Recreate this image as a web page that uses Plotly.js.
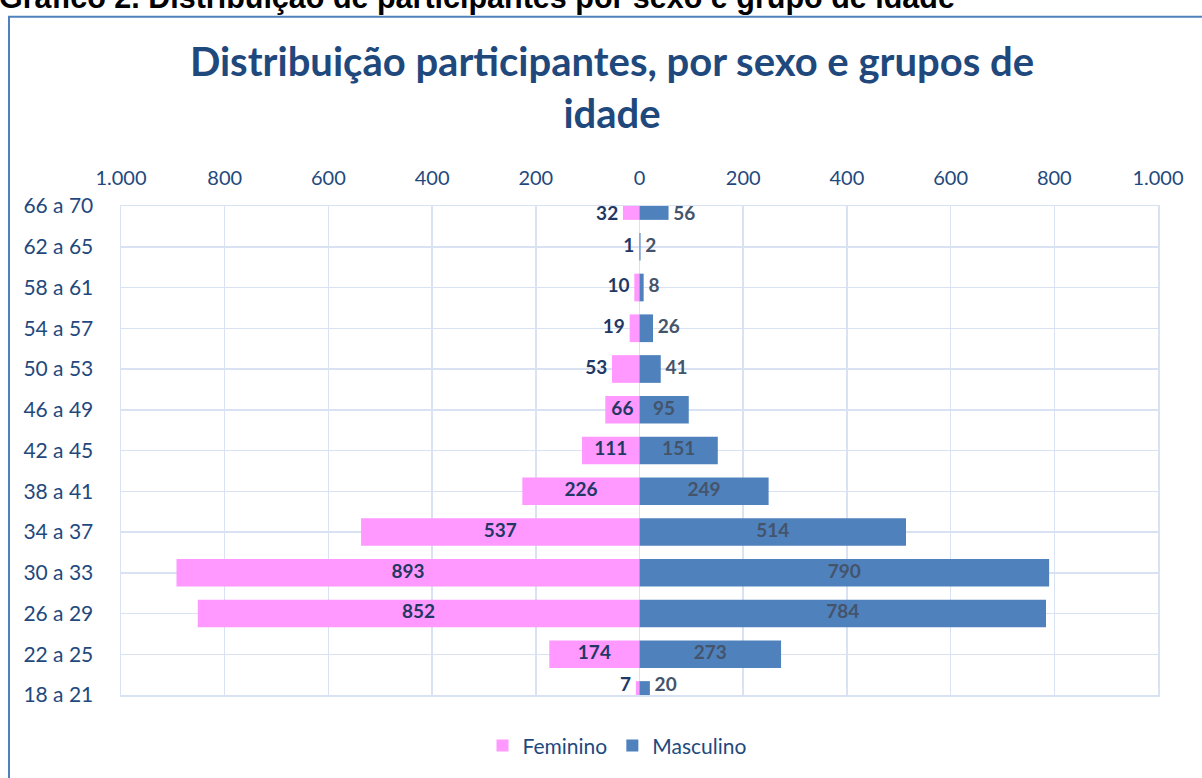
<!DOCTYPE html>
<html>
<head>
<meta charset="utf-8">
<script src="https://cdn.plot.ly/plotly-3.0.1.min.js"></script>
<style>html,body{margin:0;padding:0;background:#fff;}#chart{width:1202px;height:778px;}</style>
</head>
<body>
<div id="chart"></div>
<script>
// Age groups, bottom to top
const ageGroups = ["18 a 21","22 a 25","26 a 29","30 a 33","34 a 37","38 a 41","42 a 45","46 a 49","50 a 53","54 a 57","58 a 61","62 a 65","66 a 70"];
const feminino  = [7, 174, 852, 893, 537, 226, 111, 66, 53, 19, 10, 1, 32];
const masculino = [20, 273, 784, 790, 514, 249, 151, 95, 41, 26, 8, 2, 56];
const xTickVals = [-1000, -800, -600, -400, -200, 0, 200, 400, 600, 800, 1000];
const xTickText = ["1.000", "800", "600", "400", "200", "0", "200", "400", "600", "800", "1.000"];

const FONT = "Lato, 'Open Sans', sans-serif";
const W = 1202, H = 778;
const M = {l: 121, r: 44, t: 206, b: 81};
const PW = W - M.l - M.r, PH = H - M.t - M.b;
const px2x = p => (p - M.l) / PW;
const px2y = p => 1 - (p - M.t) / PH;

const BAR_W = 0.68;
const n = ageGroups.length;
const idx = ageGroups.map((_, i) => i);
// labels of the half-visible end bars sit on the visible part
const labelY = idx.map(i => Math.min(Math.max(i, BAR_W / 3), n - 1 - BAR_W / 3));
const isInside = v => v >= 60;

const traces = [
  {
    type: "bar", orientation: "h", name: "Feminino",
    y: idx, x: feminino.map(v => -v), width: BAR_W,
    marker: {color: "#FF99FF"}, hoverinfo: "skip"
  },
  {
    type: "bar", orientation: "h", name: "Masculino",
    y: idx, x: masculino, width: BAR_W,
    marker: {color: "#4F81BD"}, hoverinfo: "skip"
  },
  {
    type: "scatter", mode: "text", showlegend: false, cliponaxis: false, hoverinfo: "skip",
    y: labelY,
    x: feminino.map(v => isInside(v) ? -v / 2 : -v),
    text: feminino.map(v => isInside(v) ? String(v) : v + "\u2009\u2009"),
    textposition: feminino.map(v => isInside(v) ? "middle center" : "middle left"),
    textfont: {family: FONT, size: 19, color: "#1F3864", weight: "bold"}
  },
  {
    type: "scatter", mode: "text", showlegend: false, cliponaxis: false, hoverinfo: "skip",
    y: labelY,
    x: masculino.map(v => isInside(v) ? v / 2 : v),
    text: masculino.map(v => isInside(v) ? String(v) : "\u2009\u2009" + v),
    textposition: masculino.map(v => isInside(v) ? "middle center" : "middle right"),
    textfont: {family: FONT, size: 19, color: "#44546A", weight: "bold"}
  }
];

const grid = "#D9E2F3";
const layout = {
  width: W, height: H,
  margin: M,
  paper_bgcolor: "#fff", plot_bgcolor: "#fff",
  barmode: "overlay",
  font: {family: FONT, color: "#1F497D"},
  title: {
    text: "<b>Distribuição participantes, por sexo e grupos de<br>idade</b>",
    font: {family: FONT, size: 40, color: "#1F497D"},
    xref: "container", x: 612 / W, xanchor: "center",
    yref: "container", y: 1 - 76 / H, yanchor: "middle"
  },
  xaxis: {
    side: "top", range: [-1000, 1000], tickvals: xTickVals, ticktext: xTickText,
    showgrid: true, gridcolor: grid, gridwidth: 1.5,
    zeroline: true, zerolinecolor: grid, zerolinewidth: 1.5,
    showline: true, mirror: true, linecolor: grid, linewidth: 1.5,
    ticks: "", ticklabelstandoff: 12,
    tickfont: {family: FONT, size: 20, color: "#1F497D"}, fixedrange: true
  },
  yaxis: {
    range: [0, n - 1], tickvals: idx, ticktext: ageGroups,
    showgrid: true, gridcolor: grid, gridwidth: 1.5, zeroline: false,
    showline: true, mirror: true, linecolor: grid, linewidth: 1.5,
    ticks: "", ticklabelstandoff: 22,
    tickfont: {family: FONT, size: 21, color: "#1F497D"}, fixedrange: true
  },
  legend: {
    orientation: "h", x: px2x(617), xanchor: "center", y: px2y(748), yanchor: "middle",
    font: {family: FONT, size: 21, color: "#1F497D"}, traceorder: "normal",
    itemwidth: 30
  },
  shapes: [{
    type: "rect", xref: "paper", yref: "paper",
    x0: px2x(9), x1: px2x(1215), y0: px2y(800), y1: px2y(16),
    line: {color: "#4F81BD", width: 2}, fillcolor: "rgba(0,0,0,0)", layer: "below"
  }],
  annotations: [{
    text: "<b>Gráfico 2. Distribuição de participantes por sexo e grupo de idade</b>",
    xref: "paper", yref: "paper", x: px2x(-3), xanchor: "left",
    y: px2y(-3), yanchor: "middle", showarrow: false,
    font: {family: "'Liberation Sans', Arial, sans-serif", size: 30.5, color: "#000"}
  }],
  showlegend: true
};

Plotly.newPlot("chart", traces, layout, {displayModeBar: false, staticPlot: true});
</script>
</body>
</html>
